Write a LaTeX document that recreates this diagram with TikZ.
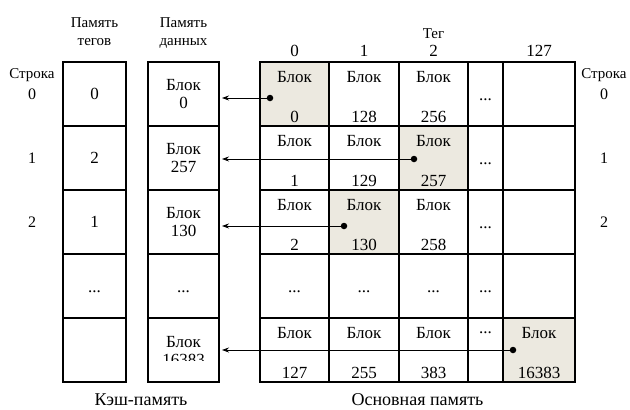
\documentclass[tikz,border=0pt]{standalone}
\usepackage{fontspec}
\setmainfont{Liberation Serif}
\usetikzlibrary{arrows.meta, calc}
\tikzset{>={Stealth[length=7pt, width=5pt]}}
\definecolor{hitcell}{RGB}{236,233,224}
\newcommand{\blkdots}{...}

\begin{document}
\begin{tikzpicture}[x=1pt, y=-1pt,
    cell/.style={draw, line width=2.2pt, inner sep=0pt, outer sep=0pt, minimum height=64pt},
    txt/.style={font=\fontsize{17}{18}\selectfont, inner sep=0pt},
    lbl/.style={font=\fontsize{15}{18}\selectfont, align=center, inner sep=0pt},
    rowno/.style={font=\fontsize{16}{18}\selectfont, inner sep=0pt},
    foot/.style={font=\fontsize{18}{20}\selectfont, inner sep=0pt},
    gap/.style={txt, yshift=-6pt},
    hit00/.style={fill=hitcell}, hit12/.style={fill=hitcell},
    hit21/.style={fill=hitcell}, hit44/.style={fill=hitcell},
    dot/.style={circle, fill, inner sep=0pt, minimum size=6.5pt},
    link/.style={->, line width=0.8pt, shorten >=3pt}]
  \useasboundingbox (0,0) rectangle (630,410);

  % cache: tag memory and data memory
  \foreach \r in {0,...,4}{
    \node[cell, minimum width=63pt] (tag\r) at (94.5, 94+64*\r) {};
    \node[cell, minimum width=71pt] (dat\r) at (183.5, 94+64*\r) {};
  }
  \foreach \r/\tg in {0/0, 1/2, 2/1} \node[txt] at (tag\r) {\tg};
  \foreach \r/\blk in {0/0, 1/257, 2/130} \node[txt, align=center] at (dat\r) {Блок\\\blk};
  \node[gap] at (tag3) {\blkdots};
  \node[gap] at (dat3) {\blkdots};
  \begin{scope}
    \clip (dat4.north west) rectangle ([yshift=-10pt]dat4.east);
    \node[txt, align=center] at ([yshift=-1pt]dat4.center) {Блок\\16383};
  \end{scope}
  \node[lbl, anchor=north] at ([yshift=45pt]tag0.north) {Память\\тегов};
  \node[lbl, anchor=north] at ([yshift=45pt]dat0.north) {Память\\данных};

  % main memory grid
  \foreach \c/\x/\w in {0/294.5/69, 1/364/70, 2/433.5/69, 3/485.5/35, 4/539/72}
    \foreach \r in {0,...,4}
      \node[cell, minimum width=\w pt, hit\r\c/.try] (m\r\c) at (\x, 94+64*\r) {};
  \foreach \r/\na/\nb/\nc in {0/0/128/256, 1/1/129/257, 2/2/130/258, 4/127/255/383}
    \foreach \c/\blk in {0/\na, 1/\nb, 2/\nc}{
      \node[txt, anchor=base] at ([yshift=-20pt]m\r\c.north) {Блок};
      \node[txt, anchor=base] at ([yshift=4pt]m\r\c.south) {\blk};
    }
  \node[txt, anchor=base] at ([yshift=-20pt]m44.north) {Блок};
  \node[txt, anchor=base] at ([yshift=4pt]m44.south) {16383};
  \node[txt, anchor=base] at ([yshift=-15pt]m43.north) {\blkdots};
  \foreach \r in {0,1,2} \node[gap] at (m\r3) {\blkdots};
  \foreach \c in {0,...,3} \node[gap] at (m3\c) {\blkdots};

  % column tags and row numbers
  \foreach \c/\lab in {0/0, 1/1, 2/2, 4/127}
    \node[txt, anchor=base] (cn\c) at ([yshift=6pt]m0\c.north) {\lab};
  \node[lbl, anchor=base] at ([yshift=6pt]cn2.north) {Тег};
  \foreach \r in {0,1,2}{
    \node[rowno] (lrow\r) at ([xshift=-31pt]tag\r.west) {\r};
    \node[rowno] (rrow\r) at ([xshift=29pt]m\r4.east) {\r};
  }
  \node[lbl, anchor=base] at ([yshift=10pt]lrow0.north) {Строка};
  \node[lbl, anchor=base] at ([yshift=10pt]rrow0.north) {Строка};

  % links from main memory blocks to cache lines
  \foreach \r/\c/\dx/\dy in {0/0/10/4, 1/2/15/1, 2/1/15/4, 4/4/10/0}{
    \node[dot] (p\r) at ([shift={(\dx,\dy)}]m\r\c.west) {};
    \draw[link] (p\r.center) -- (p\r -| dat\r.east);
  }

  \node[foot] at ($(tag4.south west)!.5!(dat4.south east) + (0,18)$) {Кэш-память};
  \node[foot] at ($(m40.south west)!.5!(m44.south east) + (0,18)$) {Основная память};
\end{tikzpicture}
\end{document}
